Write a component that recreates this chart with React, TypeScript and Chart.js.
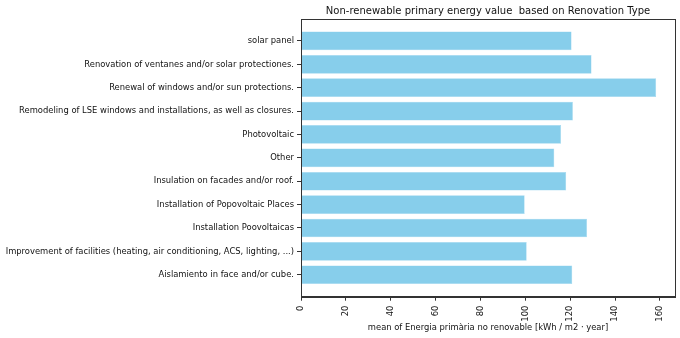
import React, { useEffect, useRef } from "react";
import { Chart, registerables } from "chart.js";

Chart.register(...registerables);

const categories = [
  "solar panel",
  "Renovation of ventanes and/or solar protectiones.",
  "Renewal of windows and/or sun protections.",
  "Remodeling of LSE windows and installations, as well as closures.",
  "Photovoltaic",
  "Other",
  "Insulation on facades and/or roof.",
  "Installation of Popovoltaic Places",
  "Installation Poovoltaicas",
  "Improvement of facilities (heating, air conditioning, ACS, lighting, ...)",
  "Aislamiento in face and/or cube.",
];

const values = [120.6, 129.5, 158.3, 121.2, 115.9, 112.9, 118.2, 99.7, 127.5, 100.6, 120.9];

const xTicks = [0, 20, 40, 60, 80, 100, 120, 140, 160];

const chartTitle = "Non-renewable primary energy value  based on Renovation Type";
const xTitle = "mean of Energia primària no renovable [kWh / m2 · year]";

const FONT = "'DejaVu Sans', sans-serif";

export default function App() {
  const ref = useRef<HTMLCanvasElement>(null);

  useEffect(() => {
    document.body.style.margin = "0";
    const canvas = ref.current;
    if (!canvas) return;

    const framePlugin = {
      id: "frame",
      afterDraw(chart: any) {
        const { ctx, chartArea } = chart;
        ctx.save();
        ctx.strokeStyle = "#333333";
        ctx.lineWidth = 1;
        ctx.strokeRect(
          Math.round(chartArea.left) + 0.5,
          Math.round(chartArea.top) + 0.5,
          Math.round(chartArea.right - chartArea.left),
          Math.round(chartArea.bottom - chartArea.top)
        );
        ctx.fillStyle = "#111111";
        ctx.textAlign = "center";
        ctx.textBaseline = "middle";
        const cx = (chartArea.left + chartArea.right) / 2;
        ctx.font = `10px ${FONT}`;
        ctx.fillText(chartTitle, cx, 11);
        ctx.font = `8.4px ${FONT}`;
        ctx.fillText(xTitle, cx, 328);
        ctx.restore();
      },
    };

    const chart = new Chart(canvas, {
      type: "bar",
      data: {
        datasets: [
          {
            data: values.map((v, i) => ({ x: v, y: i })),
            backgroundColor: "#87CEEB",
            borderColor: "#9fd8ef",
            borderWidth: 0.5,
            categoryPercentage: 1,
            barPercentage: 0.8,
          },
        ],
      },
      options: {
        indexAxis: "y",
        animation: false,
        responsive: false,
        layout: { padding: { top: 19, right: 5, left: 0, bottom: 0 } },
        plugins: {
          legend: { display: false },
          tooltip: { enabled: false },
          title: { display: false },
        },
        scales: {
          x: {
            type: "linear",
            min: 0,
            max: 166.7,
            offset: false,
            afterBuildTicks: (scale: any) => {
              scale.ticks = xTicks.map((v) => ({ value: v }));
            },
            afterFit: (scale: any) => {
              scale.height = 41.3;
            },
            ticks: {
              autoSkip: false,
              minRotation: 90,
              maxRotation: 90,
              padding: 5,
              color: "#111111",
              font: { family: FONT, size: 8.4 },
            },
            grid: {
              display: true,
              offset: false,
              drawOnChartArea: false,
              drawTicks: true,
              tickLength: 4,
              color: "#333333",
            },
            border: { display: true, color: "#333333" },
          },
          y: {
            type: "linear",
            reverse: true,
            min: -0.94,
            max: 10.94,
            offset: false,
            afterBuildTicks: (scale: any) => {
              scale.ticks = categories.map((_, i) => ({ value: i }));
            },
            afterFit: (scale: any) => {
              scale.width = 301;
            },
            ticks: {
              autoSkip: false,
              padding: 3,
              color: "#111111",
              font: { family: FONT, size: 8.4 },
              callback: (v: any) => categories[Number(v)] ?? "",
            },
            grid: {
              display: true,
              offset: false,
              drawOnChartArea: false,
              drawTicks: true,
              tickLength: 4,
              color: "#333333",
            },
            border: { display: true, color: "#333333" },
          },
        },
      },
      plugins: [framePlugin],
    });

    return () => chart.destroy();
  }, []);

  return <canvas ref={ref} width={680} height={338} style={{ display: "block" }} />;
}
